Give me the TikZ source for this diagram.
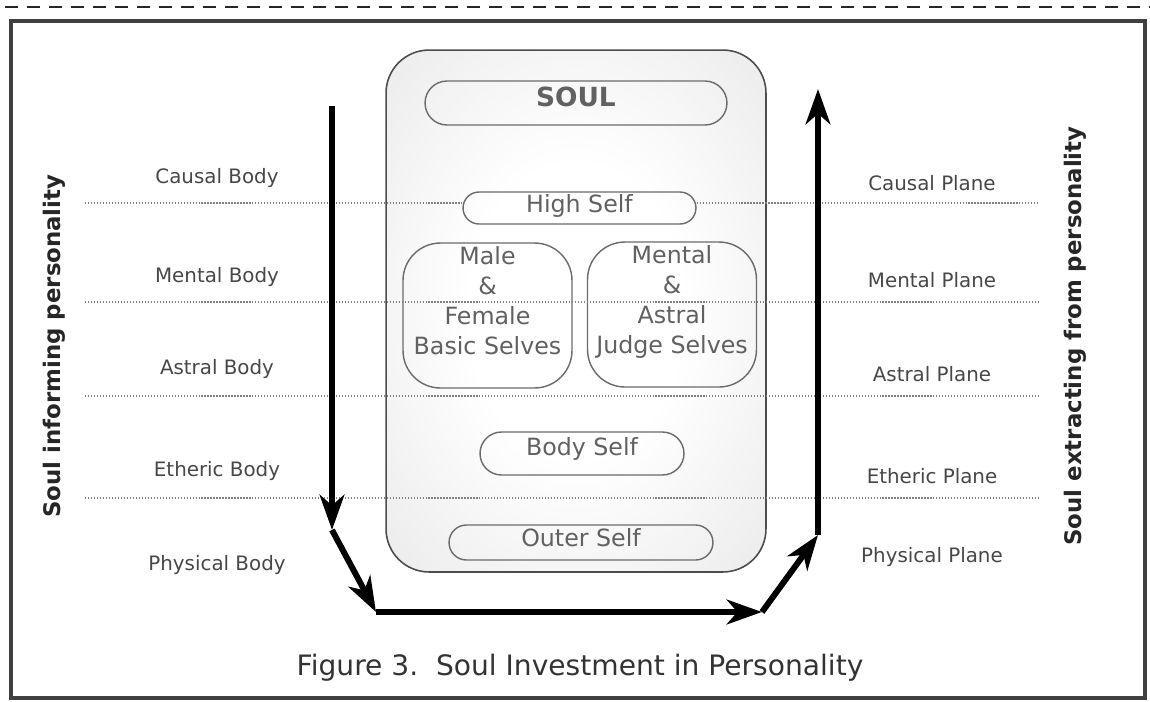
\documentclass[tikz,border=0pt]{standalone}
\usepackage{fontspec}
\setmainfont{DejaVu Sans}
\usetikzlibrary{arrows.meta,positioning,shapes.misc}
\pgfdeclareradialshading{soulglow}{\pgfpoint{0bp}{0bp}}{color(0bp)=(white); color(14bp)=(white); color(36bp)=(black!8); color(50bp)=(black!11)}

\begin{document}
\begin{tikzpicture}[x=0.02cm,y=-0.02cm,
 layer/.style={text=black!72,font=\fontsize{11.3}{13}\selectfont},
 side/.style={rotate=90,text=black!85,font=\bfseries\fontsize{13}{15}\selectfont},
 pill/.style={rounded rectangle,draw=black!58,line width=0.8pt,inner sep=0pt},
 selves/.style={draw=black!58,line width=0.8pt,rounded corners=0.75cm,minimum width=3.38cm,minimum height=2.9cm,inner sep=0pt},
 self/.style={text=black!62,font=\fontsize{13.5}{17}\selectfont,align=center,inner sep=0pt},
 level/.style={densely dotted,black!50,line width=0.7pt},
 flow/.style={line width=3.4pt,-{Stealth[length=20pt,width=14pt,inset=6pt]}}]

\useasboundingbox (0,0) rectangle (1150,701);
\coordinate (d1) at (5,7);
\coordinate (d2) at (1150,7);
\draw[line width=1.1pt,black!85,dash pattern=on 0.26cm off 0.18cm] (d1) -- (d2);
\draw[line width=1.8pt,black!75] (11,21) rectangle (1145,698);

\node[draw=black!70,line width=0.9pt,rounded corners=0.86cm,minimum width=7.6cm,minimum height=10.44cm,shading=soulglow] (core) at (576,311) {};
\node[pill,minimum width=6.04cm,minimum height=0.88cm,label={[self,font=\bfseries\fontsize{15}{18}\selectfont,yshift=0.12cm]center:SOUL}] (soul) at (576,103) {};
\node[pill,minimum width=4.66cm,minimum height=0.64cm,label={[self,yshift=0.05cm]center:High Self}] (high) at (579.5,208) {};
\node[selves,label={[self,anchor=north,yshift=-0.08cm]north:{Male\\\&\\Female\\Basic Selves}}] (male) at (487.5,315.5) {};
\node[selves,label={[self,anchor=north,yshift=-0.08cm]north:{Mental\\\&\\Astral\\Judge Selves}}] (judge) at (672,314.5) {};
\node[pill,minimum width=4.08cm,minimum height=0.86cm,label={[self,yshift=0.09cm]center:Body Self}] (bodyself) at (582,453.5) {};
\node[pill,minimum width=5.28cm,minimum height=0.7cm,label={[self,yshift=0.1cm]center:Outer Self}] (outer) at (581,542.5) {};

\coordinate (l1) at (85,203);
\coordinate (r1) at (1040,203);
\coordinate (l2) at (85,302);
\coordinate (r2) at (1040,302);
\coordinate (l3) at (85,396);
\coordinate (r3) at (1040,396);
\coordinate (l4) at (85,498);
\coordinate (r4) at (1040,498);
\draw[level] (l1) -- (l1 -| high.west);
\draw[level] (r1 -| high.east) -- (r1);
\draw[level] (l2) -- (r2);
\draw[level] (l3) -- (r3);
\draw[level] (l4) -- (r4);

\node[layer] (1) at (217,178) {Causal Body};
\node[layer] (2) at (217,277) {Mental Body};
\node[layer] (3) at (217,369) {Astral Body};
\node[layer] (4) at (217,471) {Etheric Body};
\node[layer] (5) at (217,565) {Physical Body};
\node[layer] (6) at (932,183) {Causal Plane};
\node[layer] (7) at (932,280) {Mental Plane};
\node[layer] (8) at (932,374) {Astral Plane};
\node[layer] (9) at (932,476) {Etheric Plane};
\node[layer] (10) at (932,557) {Physical Plane};

\node[side] (inform) at (54,346) {Soul informing personality};
\node[side] (extract) at (1075,336) {Soul extracting from personality};
\node[text=black!80,font=\fontsize{16}{19}\selectfont] (caption) at (580,668) {Figure 3.\ \ Soul Investment in Personality};

\coordinate (a1) at (332,106);
\coordinate (a2) at (332,530);
\coordinate (a3) at (376,612);
\coordinate (a4) at (762,612);
\coordinate (a5) at (818,535);
\coordinate (a6) at (818,89);
\draw[flow] (a1) -- (a2);
\draw[flow] (a2) -- (a3);
\draw[flow] (a3) -- (a4);
\draw[flow] (a4) -- (a5);
\draw[flow] (a5) -- (a6);

\end{tikzpicture}
\end{document}
